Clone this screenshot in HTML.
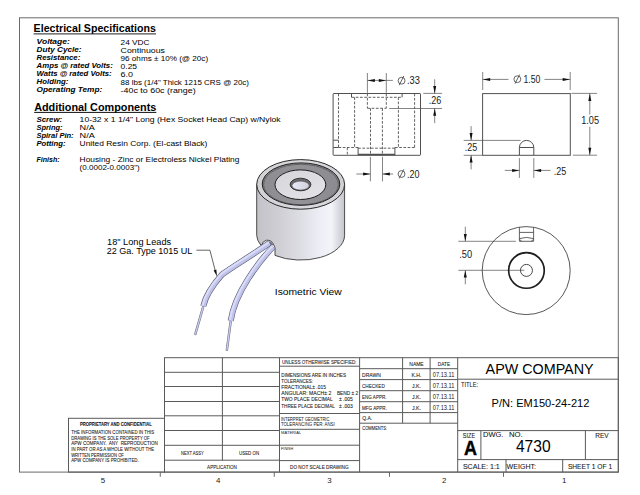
<!DOCTYPE html>
<html><head><meta charset="utf-8"><style>
html,body{margin:0;padding:0;background:#fff;width:640px;height:495px;overflow:hidden}
svg{display:block;font-family:"Liberation Sans",sans-serif}
</style></head><body>
<svg width="640" height="495" viewBox="0 0 640 495">
<rect width="640" height="495" fill="#fff"/>
<g stroke="#6a6a6a" stroke-width="1" fill="none">
<rect x="19.5" y="17.8" width="598.8" height="454.3"/>
<line x1="160.25" y1="472" x2="160.25" y2="476.8"/>
<line x1="274.25" y1="472" x2="274.25" y2="476.8"/>
<line x1="389.5" y1="472" x2="389.5" y2="476.8"/>
<line x1="503.5" y1="472" x2="503.5" y2="476.8"/>
</g>
<text x="103" y="482.7" font-size="7.9" text-anchor="middle" fill="#1a1a1a">5</text>
<text x="218.3" y="482.7" font-size="7.9" text-anchor="middle" fill="#1a1a1a">4</text>
<text x="329.5" y="482.7" font-size="7.9" text-anchor="middle" fill="#1a1a1a">3</text>
<text x="444.3" y="482.7" font-size="7.9" text-anchor="middle" fill="#1a1a1a">2</text>
<text x="564.1" y="482.7" font-size="7.9" text-anchor="middle" fill="#1a1a1a">1</text>
<g stroke="#5a5a5a" stroke-width="1" fill="none">
<rect x="164.5" y="357.7" width="453.8" height="114.4"/>
<rect x="68.5" y="418.3" width="96" height="53.8"/>
<line x1="164.5" y1="372.3" x2="279.5" y2="372.3"/>
<line x1="164.5" y1="386.5" x2="279.5" y2="386.5"/>
<line x1="164.5" y1="401.5" x2="279.5" y2="401.5"/>
<line x1="164.5" y1="415.8" x2="279.5" y2="415.8"/>
<line x1="164.5" y1="430.5" x2="279.5" y2="430.5"/>
<line x1="164.5" y1="445.3" x2="279.5" y2="445.3"/>
<line x1="164.5" y1="460.2" x2="279.5" y2="460.2"/>
<line x1="222.4" y1="357.7" x2="222.4" y2="460.5"/>
<line x1="279.5" y1="357.7" x2="279.5" y2="472.1"/>
<line x1="359.6" y1="357.7" x2="359.6" y2="472.1"/>
<line x1="457.7" y1="357.7" x2="457.7" y2="472.1"/>
<line x1="279.5" y1="366.2" x2="359.6" y2="366.2"/>
<line x1="279.5" y1="413.5" x2="359.6" y2="413.5"/>
<line x1="279.5" y1="429.3" x2="359.6" y2="429.3"/>
<line x1="279.5" y1="445.2" x2="359.6" y2="445.2"/>
<line x1="279.5" y1="460.6" x2="359.6" y2="460.6"/>
<line x1="359.6" y1="368.7" x2="457.7" y2="368.7"/>
<line x1="359.6" y1="379.6" x2="457.7" y2="379.6"/>
<line x1="359.6" y1="390.7" x2="457.7" y2="390.7"/>
<line x1="359.6" y1="401.7" x2="457.7" y2="401.7"/>
<line x1="359.6" y1="412.6" x2="457.7" y2="412.6"/>
<line x1="359.6" y1="423.2" x2="457.7" y2="423.2"/>
<line x1="402.6" y1="357.7" x2="402.6" y2="423.2"/>
<line x1="430.1" y1="357.7" x2="430.1" y2="423.2"/>
<line x1="457.7" y1="379.2" x2="618.3" y2="379.2"/>
<line x1="457.7" y1="430.6" x2="618.3" y2="430.6"/>
<line x1="457.7" y1="459.6" x2="618.3" y2="459.6"/>
<line x1="480.9" y1="430.6" x2="480.9" y2="459.6"/>
<line x1="585.4" y1="430.6" x2="585.4" y2="459.6"/>
<line x1="506.0" y1="459.6" x2="506.0" y2="472.1"/>
<line x1="562.7" y1="459.6" x2="562.7" y2="472.1"/>
</g>
<text x="115.9" y="425.7" font-size="4.8" font-weight="bold" text-anchor="middle" fill="#161616" textLength="72" lengthAdjust="spacingAndGlyphs" stroke="#161616" stroke-width="0.08">PROPRIETARY AND CONFIDENTIAL</text>
<text x="71.2" y="434.0" font-size="5.3" fill="#161616" textLength="83" lengthAdjust="spacingAndGlyphs" stroke="#161616" stroke-width="0.08">THE INFORMATION CONTAINED IN THIS</text>
<text x="71.2" y="439.65" font-size="5.3" fill="#161616" textLength="78.5" lengthAdjust="spacingAndGlyphs" stroke="#161616" stroke-width="0.08">DRAWING IS THE SOLE PROPERTY OF</text>
<text x="71.2" y="445.3" font-size="5.3" fill="#161616" textLength="86.7" lengthAdjust="spacingAndGlyphs" stroke="#161616" stroke-width="0.08">APW COMPANY.  ANY  REPRODUCTION</text>
<text x="71.2" y="450.95" font-size="5.3" fill="#161616" textLength="83" lengthAdjust="spacingAndGlyphs" stroke="#161616" stroke-width="0.08">IN PART OR AS A WHOLE WITHOUT THE</text>
<text x="71.2" y="456.6" font-size="5.3" fill="#161616" textLength="52.7" lengthAdjust="spacingAndGlyphs" stroke="#161616" stroke-width="0.08">WRITTEN PERMISSION OF</text>
<text x="71.2" y="462.25" font-size="5.3" fill="#161616" textLength="67.5" lengthAdjust="spacingAndGlyphs" stroke="#161616" stroke-width="0.08">APW COMPANY IS PROHIBITED.</text>
<text x="192.35" y="455.1" font-size="5.4" text-anchor="middle" fill="#161616" textLength="22.9" lengthAdjust="spacingAndGlyphs" stroke="#161616" stroke-width="0.08">NEXT ASSY</text>
<text x="249.05" y="455.1" font-size="5.4" text-anchor="middle" fill="#161616" textLength="20.1" lengthAdjust="spacingAndGlyphs" stroke="#161616" stroke-width="0.08">USED ON</text>
<text x="222.0" y="468.5" font-size="5.4" text-anchor="middle" fill="#161616" textLength="29.8" lengthAdjust="spacingAndGlyphs" stroke="#161616" stroke-width="0.08">APPLICATION</text>
<text x="282" y="364.3" font-size="5.5" fill="#161616" textLength="74.6" lengthAdjust="spacingAndGlyphs" stroke="#161616" stroke-width="0.08">UNLESS OTHERWISE SPECIFIED:</text>
<text x="281.3" y="377.0" font-size="4.9" fill="#161616" textLength="64.7" lengthAdjust="spacingAndGlyphs" stroke="#161616" stroke-width="0.08">DIMENSIONS ARE IN INCHES</text>
<text x="281.3" y="383.1" font-size="4.9" fill="#161616" textLength="31.7" lengthAdjust="spacingAndGlyphs" stroke="#161616" stroke-width="0.08">TOLERANCES:</text>
<text x="281.3" y="389.2" font-size="4.9" fill="#161616" textLength="44.6" lengthAdjust="spacingAndGlyphs" stroke="#161616" stroke-width="0.08">FRACTIONAL± .015</text>
<text x="281.3" y="395.3" font-size="4.9" fill="#161616" textLength="50.0" lengthAdjust="spacingAndGlyphs" stroke="#161616" stroke-width="0.08">ANGULAR: MACH± 2</text>
<text x="281.3" y="401.4" font-size="4.9" fill="#161616" textLength="51.4" lengthAdjust="spacingAndGlyphs" stroke="#161616" stroke-width="0.08">TWO PLACE DECIMAL</text>
<text x="281.3" y="407.5" font-size="4.9" fill="#161616" textLength="53.5" lengthAdjust="spacingAndGlyphs" stroke="#161616" stroke-width="0.08">THREE PLACE DECIMAL</text>
<text x="336.9" y="395.3" font-size="4.9" fill="#161616" textLength="21.4" lengthAdjust="spacingAndGlyphs" stroke="#161616" stroke-width="0.08">BEND ± 2</text>
<text x="339.0" y="401.4" font-size="4.9" fill="#161616" textLength="13.8" lengthAdjust="spacingAndGlyphs" stroke="#161616" stroke-width="0.08">± .005</text>
<text x="339.0" y="407.5" font-size="4.9" fill="#161616" textLength="13.8" lengthAdjust="spacingAndGlyphs" stroke="#161616" stroke-width="0.08">± .003</text>
<text x="280.9" y="420.8" font-size="4.6" fill="#161616" textLength="48.5" lengthAdjust="spacingAndGlyphs">INTERPRET GEOMETRIC</text>
<text x="280.9" y="426.0" font-size="4.6" fill="#161616" textLength="53.8" lengthAdjust="spacingAndGlyphs">TOLERANCING PER: ANSI</text>
<text x="281.1" y="434.2" font-size="4.3" fill="#161616" textLength="20.1" lengthAdjust="spacingAndGlyphs">MATERIAL</text>
<text x="281.1" y="449.9" font-size="4.3" fill="#161616" textLength="12.2" lengthAdjust="spacingAndGlyphs">FINISH</text>
<text x="319.3" y="468.6" font-size="4.8" text-anchor="middle" fill="#161616" textLength="58.5" lengthAdjust="spacingAndGlyphs" stroke="#161616" stroke-width="0.08">DO NOT SCALE DRAWING</text>
<text x="416.5" y="365.6" font-size="5.2" text-anchor="middle" fill="#161616" textLength="14.4" lengthAdjust="spacingAndGlyphs" stroke="#161616" stroke-width="0.08">NAME</text>
<text x="444.0" y="365.6" font-size="5.2" text-anchor="middle" fill="#161616" textLength="12.4" lengthAdjust="spacingAndGlyphs" stroke="#161616" stroke-width="0.08">DATE</text>
<text x="362.0" y="376.7" font-size="5.4" fill="#161616" textLength="18.8" lengthAdjust="spacingAndGlyphs" stroke="#161616" stroke-width="0.08">DRAWN</text>
<text x="416.5" y="376.7" font-size="5.6" text-anchor="middle" fill="#161616" textLength="10" lengthAdjust="spacingAndGlyphs" stroke="#161616" stroke-width="0.08">K.H.</text>
<text x="443.6" y="376.7" font-size="6.3" text-anchor="middle" fill="#161616" textLength="21.5" lengthAdjust="spacingAndGlyphs">07.13.11</text>
<text x="362.0" y="387.65" font-size="5.4" fill="#161616" textLength="22.8" lengthAdjust="spacingAndGlyphs" stroke="#161616" stroke-width="0.08">CHECKED</text>
<text x="416.5" y="387.65" font-size="5.6" text-anchor="middle" fill="#161616" textLength="9" lengthAdjust="spacingAndGlyphs" stroke="#161616" stroke-width="0.08">J.K.</text>
<text x="443.6" y="387.65" font-size="6.3" text-anchor="middle" fill="#161616" textLength="21.5" lengthAdjust="spacingAndGlyphs">07.13.11</text>
<text x="362.0" y="398.59999999999997" font-size="5.4" fill="#161616" textLength="24.5" lengthAdjust="spacingAndGlyphs" stroke="#161616" stroke-width="0.08">ENG APPR.</text>
<text x="416.5" y="398.59999999999997" font-size="5.6" text-anchor="middle" fill="#161616" textLength="9" lengthAdjust="spacingAndGlyphs" stroke="#161616" stroke-width="0.08">J.K.</text>
<text x="443.6" y="398.59999999999997" font-size="6.3" text-anchor="middle" fill="#161616" textLength="21.5" lengthAdjust="spacingAndGlyphs">07.13.11</text>
<text x="362.0" y="409.54999999999995" font-size="5.4" fill="#161616" textLength="24.8" lengthAdjust="spacingAndGlyphs" stroke="#161616" stroke-width="0.08">MFG APPR.</text>
<text x="416.5" y="409.54999999999995" font-size="5.6" text-anchor="middle" fill="#161616" textLength="9" lengthAdjust="spacingAndGlyphs" stroke="#161616" stroke-width="0.08">J.K.</text>
<text x="443.6" y="409.54999999999995" font-size="6.3" text-anchor="middle" fill="#161616" textLength="21.5" lengthAdjust="spacingAndGlyphs">07.13.11</text>
<text x="362.2" y="420.3" font-size="5.4" fill="#161616" textLength="10" lengthAdjust="spacingAndGlyphs" stroke="#161616" stroke-width="0.08">Q.A.</text>
<text x="362.2" y="429.9" font-size="5.0" fill="#161616" textLength="25" lengthAdjust="spacingAndGlyphs" stroke="#161616" stroke-width="0.08">COMMENTS:</text>
<text x="539.6" y="373.9" font-size="14.2" text-anchor="middle" textLength="108" lengthAdjust="spacingAndGlyphs">APW COMPANY</text>
<text x="461.0" y="386.8" font-size="7.6" fill="#161616" textLength="17.2" lengthAdjust="spacingAndGlyphs" stroke="#161616" stroke-width="0.08">TITLE:</text>
<text x="540.5" y="406.7" font-size="11.1" text-anchor="middle" textLength="97.9" lengthAdjust="spacingAndGlyphs">P/N: EM150-24-212</text>
<text x="462.8" y="437.5" font-size="7.3" fill="#161616" textLength="12.4" lengthAdjust="spacingAndGlyphs" stroke="#161616" stroke-width="0.08">SIZE</text>
<text x="464.0" y="454.5" font-size="20.3" font-weight="bold" fill="#000" textLength="13.0" lengthAdjust="spacingAndGlyphs" stroke="#000" stroke-width="0.45">A</text>
<text x="483.0" y="437.4" font-size="7.5" fill="#161616" textLength="20.4" lengthAdjust="spacingAndGlyphs" stroke="#161616" stroke-width="0.08">DWG.</text>
<text x="508.9" y="437.4" font-size="7.5" fill="#161616" textLength="13.7" lengthAdjust="spacingAndGlyphs" stroke="#161616" stroke-width="0.08">NO.</text>
<text x="533.25" y="452.4" font-size="16.8" text-anchor="middle" textLength="34.7" lengthAdjust="spacingAndGlyphs">4730</text>
<text x="595.3" y="437.7" font-size="7.5" fill="#161616" textLength="13.4" lengthAdjust="spacingAndGlyphs" stroke="#161616" stroke-width="0.08">REV</text>
<text x="462.9" y="468.9" font-size="7.9" fill="#161616" textLength="36.9" lengthAdjust="spacingAndGlyphs" stroke="#161616" stroke-width="0.08">SCALE: 1:1</text>
<text x="506.6" y="468.9" font-size="7.9" fill="#161616" textLength="29.4" lengthAdjust="spacingAndGlyphs" stroke="#161616" stroke-width="0.08">WEIGHT:</text>
<text x="567.9" y="468.9" font-size="7.9" fill="#161616" textLength="44.2" lengthAdjust="spacingAndGlyphs" stroke="#161616" stroke-width="0.08">SHEET 1 OF 1</text>
<text x="33.6" y="32.2" font-size="10.5" font-weight="bold" textLength="122.4" lengthAdjust="spacingAndGlyphs">Electrical Specifications</text>
<rect x="33.6" y="33.4" width="122.4" height="1" fill="#222"/>
<text x="36.6" y="43.8" font-size="7.8" font-weight="bold" font-style="italic" textLength="33.2" lengthAdjust="spacingAndGlyphs">Voltage:</text>
<text x="120.6" y="44.5" font-size="8.1" textLength="28.8" lengthAdjust="spacingAndGlyphs">24 VDC</text>
<text x="36.6" y="51.9" font-size="7.8" font-weight="bold" font-style="italic" textLength="45" lengthAdjust="spacingAndGlyphs">Duty Cycle:</text>
<text x="120.6" y="52.6" font-size="8.1" textLength="44.4" lengthAdjust="spacingAndGlyphs">Continuous</text>
<text x="36.6" y="60.0" font-size="7.8" font-weight="bold" font-style="italic" textLength="43.7" lengthAdjust="spacingAndGlyphs">Resistance:</text>
<text x="120.6" y="60.7" font-size="8.1" textLength="87.5" lengthAdjust="spacingAndGlyphs">96 ohms ± 10% (@ 20c)</text>
<text x="36.6" y="68.1" font-size="7.8" font-weight="bold" font-style="italic" textLength="76.2" lengthAdjust="spacingAndGlyphs">Amps @ rated Volts:</text>
<text x="120.6" y="68.8" font-size="8.1" textLength="16.5" lengthAdjust="spacingAndGlyphs">0.25</text>
<text x="36.6" y="76.2" font-size="7.8" font-weight="bold" font-style="italic" textLength="75" lengthAdjust="spacingAndGlyphs">Watts @ rated Volts:</text>
<text x="120.6" y="76.9" font-size="8.1" textLength="12.5" lengthAdjust="spacingAndGlyphs">6.0</text>
<text x="36.6" y="84.3" font-size="7.8" font-weight="bold" font-style="italic" textLength="31.7" lengthAdjust="spacingAndGlyphs">Holding:</text>
<text x="120.6" y="85.0" font-size="8.1" textLength="128.4" lengthAdjust="spacingAndGlyphs">88 lbs (1/4" Thick 1215 CRS @ 20c)</text>
<text x="36.6" y="92.39999999999999" font-size="7.8" font-weight="bold" font-style="italic" textLength="65.6" lengthAdjust="spacingAndGlyphs">Operating Temp:</text>
<text x="120.6" y="93.1" font-size="8.1" textLength="75" lengthAdjust="spacingAndGlyphs">-40c to 60c (range)</text>
<text x="34.2" y="110.75" font-size="10.5" font-weight="bold" textLength="122.1" lengthAdjust="spacingAndGlyphs">Additional Components</text>
<rect x="34.2" y="111.9" width="122.1" height="1" fill="#111"/>
<text x="36.4" y="122.3" font-size="7.8" font-weight="bold" font-style="italic" textLength="25.8" lengthAdjust="spacingAndGlyphs">Screw:</text>
<text x="79.6" y="122.3" font-size="8.1" textLength="201.1" lengthAdjust="spacingAndGlyphs">10-32 x 1 1/4" Long (Hex Socket Head Cap) w/Nylok</text>
<text x="36.4" y="130.1" font-size="7.8" font-weight="bold" font-style="italic" textLength="26.2" lengthAdjust="spacingAndGlyphs">Spring:</text>
<text x="79.6" y="130.1" font-size="8.1" textLength="15.2" lengthAdjust="spacingAndGlyphs">N/A</text>
<text x="36.4" y="138.0" font-size="7.8" font-weight="bold" font-style="italic" textLength="37.2" lengthAdjust="spacingAndGlyphs">Spiral Pin:</text>
<text x="79.6" y="138.0" font-size="8.1" textLength="15.2" lengthAdjust="spacingAndGlyphs">N/A</text>
<text x="36.4" y="146.0" font-size="7.8" font-weight="bold" font-style="italic" textLength="29.1" lengthAdjust="spacingAndGlyphs">Potting:</text>
<text x="79.6" y="146.0" font-size="8.1" textLength="127.8" lengthAdjust="spacingAndGlyphs">United Resin Corp. (El-cast Black)</text>
<text x="36.4" y="161.7" font-size="7.8" font-weight="bold" font-style="italic" textLength="23.2" lengthAdjust="spacingAndGlyphs">Finish:</text>
<text x="79.6" y="161.7" font-size="8.1" textLength="159.8" lengthAdjust="spacingAndGlyphs">Housing - Zinc or Electroless Nickel Plating</text>
<text x="79.6" y="170.2" font-size="8.1" textLength="60.1" lengthAdjust="spacingAndGlyphs">(0.0002-0.0003")</text>
<text x="107.1" y="245.2" font-size="9.2" textLength="64" lengthAdjust="spacingAndGlyphs">18" Long Leads</text>
<text x="106.7" y="254.4" font-size="9.2" textLength="85.7" lengthAdjust="spacingAndGlyphs">22 Ga. Type 1015 UL</text>
<text x="274.8" y="295.2" font-size="9.3" textLength="66.8" lengthAdjust="spacingAndGlyphs">Isometric View</text>
<g stroke="#666" stroke-width="0.8" fill="none">
<line x1="367.4" y1="73.0" x2="367.4" y2="92.8"/>
<line x1="386.3" y1="73.0" x2="386.3" y2="92.8"/>
<line x1="367.4" y1="80.4" x2="392.8" y2="80.4"/>
<line x1="423.3" y1="93.4" x2="442.1" y2="93.4"/>
<line x1="389.2" y1="108.5" x2="442.1" y2="108.5"/>
<line x1="434.7" y1="79.3" x2="434.7" y2="93.4"/>
<line x1="434.7" y1="108.5" x2="434.7" y2="123.1"/>
<line x1="370.4" y1="156.9" x2="370.4" y2="181.3"/>
<line x1="382.5" y1="156.9" x2="382.5" y2="181.3"/>
<line x1="356.3" y1="174.0" x2="370.4" y2="174.0"/>
<line x1="382.5" y1="174.0" x2="393.1" y2="174.0"/>
<line x1="482.7" y1="72.0" x2="482.7" y2="90.0"/>
<line x1="570.2" y1="72.0" x2="570.2" y2="90.0"/>
<line x1="482.7" y1="79.4" x2="508.5" y2="79.4"/>
<line x1="544.4" y1="79.4" x2="570.2" y2="79.4"/>
<line x1="571.5" y1="93.4" x2="597.1" y2="93.4"/>
<line x1="572.9" y1="155.2" x2="597.1" y2="155.2"/>
<line x1="589.8" y1="93.4" x2="589.8" y2="114.5"/>
<line x1="589.8" y1="126.7" x2="589.8" y2="155.2"/>
<line x1="519.4" y1="158.1" x2="519.4" y2="177.9"/>
<line x1="533.8" y1="158.1" x2="533.8" y2="177.9"/>
<line x1="504.8" y1="170.4" x2="519.4" y2="170.4"/>
<line x1="533.8" y1="170.4" x2="550.6" y2="170.4"/>
<line x1="463.7" y1="140.4" x2="520.6" y2="140.4"/>
<line x1="463.7" y1="155.3" x2="482.4" y2="155.3"/>
<line x1="471.1" y1="126.1" x2="471.1" y2="140.4"/>
<line x1="471.1" y1="155.3" x2="471.1" y2="169.4"/>
<line x1="458.3" y1="241.3" x2="515.9" y2="241.3"/>
<line x1="458.3" y1="270.3" x2="524.4" y2="270.3"/>
<line x1="465.3" y1="226.7" x2="465.3" y2="241.3"/>
<line x1="465.3" y1="270.3" x2="465.3" y2="284.4"/>
</g>
<path d="M367.60,80.40 L374.90,78.90 L374.90,81.90 Z" fill="#111"/>
<path d="M386.10,80.40 L378.80,81.90 L378.80,78.90 Z" fill="#111"/>
<path d="M434.70,93.40 L433.20,86.10 L436.20,86.10 Z" fill="#111"/>
<path d="M434.70,108.50 L436.20,115.80 L433.20,115.80 Z" fill="#111"/>
<path d="M370.40,174.00 L363.10,175.50 L363.10,172.50 Z" fill="#111"/>
<path d="M382.50,174.00 L389.80,172.50 L389.80,175.50 Z" fill="#111"/>
<path d="M482.90,79.40 L490.20,77.90 L490.20,80.90 Z" fill="#111"/>
<path d="M570.00,79.40 L562.70,80.90 L562.70,77.90 Z" fill="#111"/>
<path d="M589.80,93.60 L591.30,100.90 L588.30,100.90 Z" fill="#111"/>
<path d="M589.80,155.00 L588.30,147.70 L591.30,147.70 Z" fill="#111"/>
<path d="M519.40,170.40 L512.10,171.90 L512.10,168.90 Z" fill="#111"/>
<path d="M533.80,170.40 L541.10,168.90 L541.10,171.90 Z" fill="#111"/>
<path d="M471.10,140.40 L469.60,133.10 L472.60,133.10 Z" fill="#111"/>
<path d="M471.10,155.30 L472.60,162.60 L469.60,162.60 Z" fill="#111"/>
<path d="M465.30,241.30 L463.80,234.00 L466.80,234.00 Z" fill="#111"/>
<path d="M465.30,270.30 L466.80,277.60 L463.80,277.60 Z" fill="#111"/>
<g stroke="#333" stroke-width="0.75" fill="none"><ellipse cx="401.55" cy="80.70" rx="3.45" ry="3.4"/><line x1="399.20" y1="85.20" x2="403.80" y2="76.00"/></g>
<text x="407.0" y="84.4" font-size="10.4" fill="#1a1a1a" textLength="12.9" lengthAdjust="spacingAndGlyphs">.33</text>
<text x="428.75" y="103.9" font-size="10.4" fill="#1a1a1a" textLength="12.5" lengthAdjust="spacingAndGlyphs">.26</text>
<g stroke="#333" stroke-width="0.75" fill="none"><ellipse cx="401.55" cy="174.00" rx="3.45" ry="3.4"/><line x1="399.20" y1="178.50" x2="403.80" y2="169.30"/></g>
<text x="407.1" y="177.7" font-size="10.4" fill="#1a1a1a" textLength="12.5" lengthAdjust="spacingAndGlyphs">.20</text>
<g stroke="#333" stroke-width="0.75" fill="none"><ellipse cx="517.35" cy="79.20" rx="3.45" ry="3.4"/><line x1="515.00" y1="83.70" x2="519.60" y2="74.50"/></g>
<text x="523.4" y="82.9" font-size="10.4" fill="#1a1a1a" textLength="16.9" lengthAdjust="spacingAndGlyphs">1.50</text>
<text x="581.2" y="124.2" font-size="10.4" fill="#1a1a1a" textLength="17.8" lengthAdjust="spacingAndGlyphs">1.05</text>
<text x="553.7" y="174.5" font-size="10.4" fill="#1a1a1a" textLength="12.5" lengthAdjust="spacingAndGlyphs">.25</text>
<text x="464.8" y="150.8" font-size="10.4" fill="#1a1a1a" textLength="12.4" lengthAdjust="spacingAndGlyphs">.25</text>
<text x="459.3" y="257.9" font-size="10.4" fill="#1a1a1a" textLength="12.9" lengthAdjust="spacingAndGlyphs">.50</text>
<g stroke="#505050" stroke-width="1" fill="none">
<rect x="333.1" y="93.5" width="87.4" height="61.8" rx="0.6"/>
<line x1="333.3" y1="140.2" x2="338.5" y2="140.2"/>
<line x1="333.3" y1="147.5" x2="338.5" y2="147.5"/>
<line x1="351.5" y1="93.6" x2="351.5" y2="97.3"/>
<line x1="402.1" y1="93.6" x2="402.1" y2="97.3"/>
<line x1="358.1" y1="147.5" x2="358.1" y2="155.3"/>
<line x1="394.9" y1="147.5" x2="394.9" y2="155.3"/>
<line x1="358.1" y1="154.5" x2="394.9" y2="154.5" stroke-width="1.4"/>
</g>
<g stroke="#505050" stroke-width="0.9" fill="none" stroke-dasharray="2.7 1.55">
<line x1="338.5" y1="93.6" x2="338.5" y2="147.5"/>
<line x1="338.5" y1="147.5" x2="358.1" y2="147.5"/>
<line x1="347.3" y1="147.5" x2="347.3" y2="155.3"/>
<line x1="354.6" y1="97.3" x2="354.6" y2="147.5"/>
<line x1="351.5" y1="97.3" x2="402.1" y2="97.3"/>
<line x1="398.4" y1="97.3" x2="398.4" y2="147.5"/>
<line x1="394.9" y1="147.5" x2="414.6" y2="147.5"/>
<line x1="414.6" y1="93.6" x2="414.6" y2="147.5"/>
<line x1="367.4" y1="93.6" x2="367.4" y2="108.3"/>
<line x1="386.3" y1="93.6" x2="386.3" y2="108.3"/>
<line x1="367.4" y1="108.3" x2="386.3" y2="108.3"/>
<line x1="370.5" y1="108.3" x2="370.5" y2="155.3"/>
<line x1="382.4" y1="108.3" x2="382.4" y2="155.3"/>
<line x1="358.1" y1="148.2" x2="394.9" y2="148.2"/>
</g>
<g stroke="#505050" stroke-width="1" fill="none">
<rect x="482.6" y="93.6" width="87.7" height="61.7"/>
<path d="M519.4,155.3 L519.4,147.5 A7.2,7.1 0 0 1 533.8,147.5 L533.8,155.3 M519.4,147.5 L533.8,147.5"/>
</g>
<g stroke="#505050" fill="none">
<circle cx="526.2" cy="270.6" r="44" stroke-width="0.85" stroke="#3a3a3a"/>
<circle cx="526.45" cy="270.45" r="17.8" stroke-width="1.7" stroke="#1e1e1e"/>
<circle cx="526.45" cy="270.4" r="6.0" stroke-width="0.9" stroke="#333"/>
<path d="M519.4,227.2 L519.4,241.3 L533.6,241.3 L533.6,227.2 M519.4,232.4 L533.6,232.4 M519.4,238.6 Q526.5,236.2 533.6,238.6 M519.6,239.2 Q520.2,240.9 521.8,241.2 M533.4,239.2 Q532.8,240.9 531.2,241.2" stroke-width="0.9"/>
</g>
<defs>
<linearGradient id="body" x1="0" x2="1" y1="0" y2="0">
<stop offset="0" stop-color="#c3c2c8"/>
<stop offset="0.25" stop-color="#cfced4"/>
<stop offset="0.5" stop-color="#dddde4"/>
<stop offset="0.72" stop-color="#eeeef6"/>
<stop offset="0.85" stop-color="#f3f3fa"/>
<stop offset="1" stop-color="#c4c4cc"/>
</linearGradient>
<linearGradient id="hole" x1="0" x2="1" y1="0" y2="0">
<stop offset="0" stop-color="#e8eafc"/>
<stop offset="0.5" stop-color="#dcdde8"/>
<stop offset="1" stop-color="#cfd0d8"/>
</linearGradient>
<linearGradient id="ring" x1="0" x2="1" y1="0" y2="0">
<stop offset="0" stop-color="#8c8c91"/>
<stop offset="0.5" stop-color="#929297"/>
<stop offset="1" stop-color="#8a8a90"/>
</linearGradient>
<linearGradient id="rim" x1="0" x2="1" y1="0" y2="0">
<stop offset="0" stop-color="#d2d2d6"/>
<stop offset="0.6" stop-color="#dadade"/>
<stop offset="1" stop-color="#cfcfd4"/>
</linearGradient>
<linearGradient id="face" x1="0" x2="1" y1="0" y2="1">
<stop offset="0" stop-color="#d6d6da"/>
<stop offset="1" stop-color="#e4e4e8"/>
</linearGradient>
</defs>
<path d="M256.7,184.4 L256.7,235.6 A43.95,24.8 0 0 0 261.2,245.6 Q263.2,240.6 266.5,240.2 Q271.5,239.9 273.4,244.2 L275.0,247.8 L275.0,255.4 A43.95,24.8 0 0 0 344.59999999999997,235.6 L344.59999999999997,184.4 Z" fill="url(#body)" stroke="#3a3a3a" stroke-width="0.9" stroke-linejoin="round"/>
<ellipse cx="300.65" cy="184.4" rx="43.95" ry="24.8" fill="url(#rim)" stroke="#2a2a2a" stroke-width="1"/>
<ellipse cx="301" cy="184.1" rx="38.8" ry="21.2" fill="url(#ring)" stroke="#1e1e1e" stroke-width="1"/>
<ellipse cx="301" cy="184.5" rx="37.4" ry="20.2" fill="none" stroke="#444" stroke-width="0.6"/>
<ellipse cx="300.4" cy="184.7" rx="25.4" ry="14.8" fill="url(#face)" stroke="#1e1e1e" stroke-width="1"/>
<ellipse cx="300.5" cy="184.5" rx="10.4" ry="6.3" fill="#6a6a70" stroke="#2a2a2a" stroke-width="0.9"/>
<ellipse cx="300.6" cy="185.6" rx="8.7" ry="4.5" fill="url(#hole)" stroke="#3a3a3a" stroke-width="0.6"/>
<path d="M264.0,244.0 Q266.0,241.2 269.2,241.3 Q272.2,241.8 273.4,245.2 L268,246 Z" fill="#70727f"/>
<path d="M269.5,243.0 C250,256.5 232,267 222,274.5 C214,283.5 206,294 203.3,306.2" fill="none" stroke="#5a5c72" stroke-width="6.0" stroke-linecap="butt"/>
<path d="M269.5,243.0 C250,256.5 232,267 222,274.5 C214,283.5 206,294 203.3,306.2" fill="none" stroke="#bfc2ea" stroke-width="4.8" stroke-linecap="butt"/>
<path d="M269.5,243.0 C250,256.5 232,267 222,274.5 C214,283.5 206,294 203.3,306.2" fill="none" stroke="#dadcf7" stroke-width="2.0" stroke-linecap="butt" transform="translate(-0.7,-0.8)"/>
<path d="M203.1,307.2 L195.4,333.9" fill="none" stroke="#6a6c82" stroke-width="2.4" stroke-linecap="round"/>
<path d="M203.1,307.2 L195.4,333.9" fill="none" stroke="#c9cbee" stroke-width="1.4" stroke-linecap="round"/>
<path d="M273.0,247.0 C262,258 255,268 248,279 C241,290 233,305 230.7,320.8" fill="none" stroke="#5a5c72" stroke-width="6.0" stroke-linecap="butt"/>
<path d="M273.0,247.0 C262,258 255,268 248,279 C241,290 233,305 230.7,320.8" fill="none" stroke="#bfc2ea" stroke-width="4.8" stroke-linecap="butt"/>
<path d="M273.0,247.0 C262,258 255,268 248,279 C241,290 233,305 230.7,320.8" fill="none" stroke="#dadcf7" stroke-width="2.0" stroke-linecap="butt" transform="translate(-0.7,-0.8)"/>
<path d="M230.6,322.0 L226.9,349.8" fill="none" stroke="#6a6c82" stroke-width="2.4" stroke-linecap="round"/>
<path d="M230.6,322.0 L226.9,349.8" fill="none" stroke="#c9cbee" stroke-width="1.4" stroke-linecap="round"/>
<path d="M196.4,250.2 L209.9,250.2 L215.6,272.0" fill="none" stroke="#333" stroke-width="0.75"/>
<path d="M217.00,276.60 L213.68,270.39 L216.36,269.59 Z" fill="#111"/>
</svg></body></html>
